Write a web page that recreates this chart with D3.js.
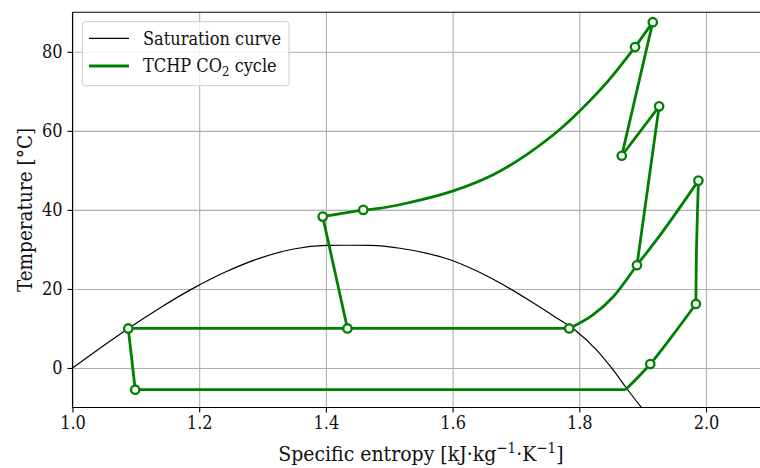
<!DOCTYPE html>
<html>
<head>
<meta charset="utf-8">
<script src="https://cdn.jsdelivr.net/npm/d3@7"></script>
<style>
  body { margin: 0; background: #fff; }
  svg { display: block; font-family: "DejaVu Serif", serif; font-stretch: condensed; }
</style>
</head>
<body>
<svg width="760" height="468"></svg>
<script>
// Saturation dome of CO2 (entropy kJ/kgK, temperature degC)
var satS = [1.0, 1.04, 1.088, 1.138, 1.191, 1.243, 1.296, 1.349, 1.401, 1.433, 1.47, 1.517, 1.56, 1.596, 1.64, 1.675, 1.727, 1.76, 1.793, 1.827, 1.851, 1.874, 1.898];
var satT = [0, 4.6, 10, 15.2, 20.2, 24.4, 27.8, 30.1, 31.0, 31.05, 31.0, 30.3, 29.0, 27.4, 24.4, 21.5, 16.5, 13.1, 9.6, 4.6, 0, -5.0, -10];

// cycle state points (markers)
var stateS = [1.916, 1.888, 1.867, 1.926, 1.891, 1.988, 1.984, 1.912, 1.784, 1.434, 1.395, 1.459, 1.088, 1.099];
var stateT = [87.5, 81.2, 53.7, 66.2, 26.0, 47.4, 16.2, 1.0, 10.0, 10.0, 38.3, 40.0, 10.0, -5.5];

// process lines between the states
var gasCoolerS = [1.888, 1.848, 1.801, 1.7695, 1.717, 1.664, 1.601, 1.533, 1.485, 1.459];
var gasCoolerT = [81.2, 73.1, 65.1, 60.4, 54.0, 48.9, 44.8, 41.9, 40.4, 40.0];
var flashVapourS = [1.784, 1.822, 1.854, 1.891, 1.927, 1.988];
var flashVapourT = [10.0, 13.5, 18.1, 26.0, 33.5, 47.4];
var superheatS = [1.873, 1.912, 1.948, 1.984];
var superheatT = [-5.5, 1.0, 8.4, 16.2];
var evaporatorS = [1.099, 1.873];
var evaporatorT = [-5.5, -5.5];
var flashTankS = [1.088, 1.784];
var flashTankT = [10.0, 10.0];
var comp1S = [1.984, 1.985, 1.988];
var comp1T = [16.2, 30.0, 47.4];
var comp2S = [1.891, 1.926];
var comp2T = [26.0, 66.2];
var comp3S = [1.867, 1.916];
var comp3T = [53.7, 87.5];
var inter1S = [1.926, 1.867];
var inter1T = [66.2, 53.7];
var inter2S = [1.916, 1.888];
var inter2T = [87.5, 81.2];
var ihxS = [1.459, 1.395];
var ihxT = [40.0, 38.3];
var valve1S = [1.395, 1.434];
var valve1T = [38.3, 10.0];
var valve2S = [1.088, 1.099];
var valve2T = [10.0, -5.5];

var xTicks = [1.0, 1.2, 1.4, 1.6, 1.8, 2.0];
var yTicks = [0, 20, 40, 60, 80];

var plotLeft = 72.5, plotTop = 12.3, plotBottom = 407.5;
var tickFont = 18, labelFont = 21;
var green = '#008000';

var svg = d3.select('svg');

var xScale = d3.scaleLinear()
                .domain([1.0, 2.1])
                .range([plotLeft, plotLeft + 1.1 * 633.5]);

var yScale = d3.scaleLinear()
                .domain([-10, 90])
                .range([plotBottom, plotTop]);

var plotRight = xScale.range()[1];

// Grid
svg.append('g')
    .attr('transform', 'translate(0,' + plotBottom + ')')
    .call(d3.axisBottom(xScale).tickValues(xTicks).tickSize(-(plotBottom - plotTop)).tickFormat(''))
    .call(g => g.select('.domain').remove())
    .selectAll('line').attr('stroke', '#b0b0b0').attr('stroke-width', 1.1);

svg.append('g')
    .attr('transform', 'translate(' + plotLeft + ',0)')
    .call(d3.axisLeft(yScale).tickValues(yTicks).tickSize(-(plotRight - plotLeft)).tickFormat(''))
    .call(g => g.select('.domain').remove())
    .selectAll('line').attr('stroke', '#b0b0b0').attr('stroke-width', 1.1);

// Clip
svg.append('clipPath').attr('id', 'plot')
    .append('rect')
    .attr('x', plotLeft).attr('y', plotTop)
    .attr('width', plotRight - plotLeft).attr('height', plotBottom - plotTop);

var plot = svg.append('g').attr('clip-path', 'url(#plot)');

function pairs(s, t) {
    return s.map((v, i) => [v, t[i]]);
}

var smooth = d3.line()
    .x(d => xScale(d[0]))
    .y(d => yScale(d[1]))
    .curve(d3.curveMonotoneX);

var curved = d3.line()
    .x(d => xScale(d[0]))
    .y(d => yScale(d[1]))
    .curve(d3.curveCatmullRom);

var straight = d3.line()
    .x(d => xScale(d[0]))
    .y(d => yScale(d[1]));

plot.append('path')
    .attr('d', smooth(pairs(satS, satT)))
    .attr('fill', 'none')
    .attr('stroke', 'black')
    .attr('stroke-width', 1.2);

var segments = [
    [gasCoolerS.slice().reverse(), gasCoolerT.slice().reverse(), smooth],
    [flashVapourS, flashVapourT, smooth],
    [superheatS, superheatT, smooth],
    [evaporatorS, evaporatorT, straight],
    [flashTankS, flashTankT, straight],
    [comp1S, comp1T, curved],
    [comp2S, comp2T, straight],
    [comp3S, comp3T, straight],
    [inter1S, inter1T, straight],
    [inter2S, inter2T, straight],
    [ihxS, ihxT, straight],
    [valve1S, valve1T, straight],
    [valve2S, valve2T, straight]
];

plot.selectAll('path.cycle')
    .data(segments)
    .enter()
    .append('path')
        .attr('class', 'cycle')
        .attr('d', d => d[2](pairs(d[0], d[1])))
        .attr('fill', 'none')
        .attr('stroke', green)
        .attr('stroke-width', 2.8)
        .attr('stroke-linejoin', 'round');

svg.selectAll('circle.state')
    .data(pairs(stateS, stateT))
    .enter()
    .append('circle')
        .attr('class', 'state')
        .attr('cx', d => xScale(d[0]))
        .attr('cy', d => yScale(d[1]))
        .attr('r', 4.2)
        .attr('fill', 'white')
        .attr('stroke', green)
        .attr('stroke-width', 2.3);

// Axes
var xAxis = svg.append('g')
    .attr('transform', 'translate(0,' + plotBottom + ')')
    .call(d3.axisBottom(xScale).tickValues(xTicks).tickSize(5).tickPadding(4).tickFormat(d3.format('.1f')));

var yAxis = svg.append('g')
    .attr('transform', 'translate(' + plotLeft + ',0)')
    .call(d3.axisLeft(yScale).tickValues(yTicks).tickSize(5).tickPadding(5));

[xAxis, yAxis].forEach(function (ax) {
    ax.select('.domain').remove();
    ax.selectAll('line').attr('stroke', 'black').attr('stroke-width', 1.1);
    ax.selectAll('text')
        .attr('fill', '#111')
        .style('font-family', '"DejaVu Serif", serif')
        .style('font-size', tickFont + 'px');
});

// Spines
svg.append('line').attr('x1', plotLeft).attr('x2', plotLeft).attr('y1', plotTop).attr('y2', plotBottom)
    .attr('stroke', 'black').attr('stroke-width', 1.1);
svg.append('line').attr('x1', plotLeft).attr('x2', plotRight).attr('y1', plotBottom).attr('y2', plotBottom)
    .attr('stroke', 'black').attr('stroke-width', 1.1);
svg.append('line').attr('x1', plotLeft).attr('x2', plotRight).attr('y1', plotTop).attr('y2', plotTop)
    .attr('stroke', 'black').attr('stroke-width', 1.1);

// Axis labels
var xLabel = svg.append('text')
    .attr('x', (plotLeft + plotRight) / 2)
    .attr('y', 461)
    .style('text-anchor', 'middle')
    .style('font-size', labelFont + 'px')
    .attr('fill', '#111');
xLabel.append('tspan').text('Specific entropy [kJ·kg');
xLabel.append('tspan').attr('dy', -8).style('font-size', '15px').text('−1');
xLabel.append('tspan').attr('dy', 8).text('·K');
xLabel.append('tspan').attr('dy', -8).style('font-size', '15px').text('−1');
xLabel.append('tspan').attr('dy', 8).text(']');

svg.append('text')
    .attr('transform', 'rotate(-90)')
    .attr('x', -(plotTop + plotBottom) / 2)
    .attr('y', 32)
    .style('text-anchor', 'middle')
    .style('font-size', '20.5px')
    .attr('fill', '#111')
    .text('Temperature [°C]');

// Legend
var legend = svg.append('g');
legend.append('rect')
    .attr('x', 82.3).attr('y', 21.7)
    .attr('width', 206.7).attr('height', 64)
    .attr('rx', 3)
    .attr('fill', 'white').attr('fill-opacity', 0.8)
    .attr('stroke', '#cccccc').attr('stroke-width', 1);

legend.append('line')
    .attr('x1', 89).attr('x2', 129).attr('y1', 38.3).attr('y2', 38.3)
    .attr('stroke', 'black').attr('stroke-width', 1.2);
legend.append('line')
    .attr('x1', 89).attr('x2', 129).attr('y1', 66).attr('y2', 66)
    .attr('stroke', green).attr('stroke-width', 2.8);

legend.append('text')
    .attr('x', 143).attr('y', 38.3).attr('dy', '0.35em')
    .style('font-size', tickFont + 'px').attr('fill', '#111')
    .text('Saturation curve');

var leg2 = legend.append('text')
    .attr('x', 143).attr('y', 66).attr('dy', '0.35em')
    .style('font-size', tickFont + 'px').attr('fill', '#111');
leg2.append('tspan').text('TCHP CO');
leg2.append('tspan').attr('dy', 4).style('font-size', '13px').text('2');
leg2.append('tspan').attr('dy', -4).text(' cycle');
</script>
</body>
</html>
